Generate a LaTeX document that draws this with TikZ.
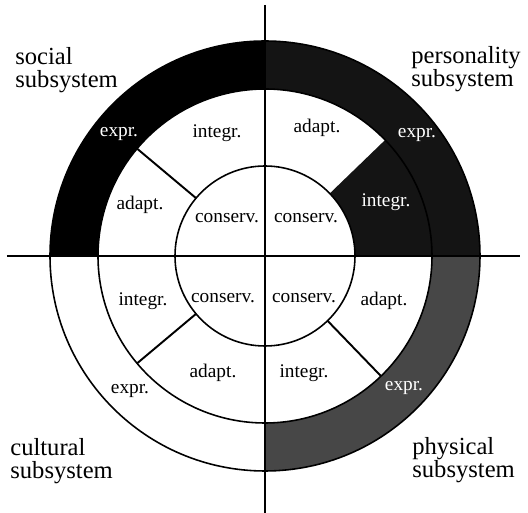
\documentclass[tikz,border=0pt]{standalone}
\usepackage{fontspec}
\setmainfont{Liberation Serif}
\usepackage{tikz}

\tikzset{
  part/.style={font=\fontsize{11}{12}\selectfont, inner sep=1pt},
  subsys/.style={font=\fontsize{14}{13}\selectfont, align=left, anchor=west, inner sep=0pt},
  ring/.style={line width=0.9pt},
  axis/.style={line width=1.6pt}
}

\begin{document}
\begin{tikzpicture}[x=0.02cm, y=0.02cm]
        \useasboundingbox (-265,-257) rectangle (263,256);
        % filled parts of the rings
        \fill[black] (90:215) arc[start angle=90, end angle=180, radius=215]
            -- (180:167) arc[start angle=180, end angle=90, radius=167] -- cycle;
        \fill[black!92] (90:215) arc[start angle=90, end angle=0, radius=215]
            -- (0:90) arc[start angle=0, end angle=44, radius=90]
            -- (44:167) arc[start angle=44, end angle=90, radius=167] -- cycle;
        \fill[black!72] (0:215) arc[start angle=0, end angle=-90, radius=215]
            -- (-90:167) arc[start angle=-90, end angle=0, radius=167] -- cycle;
        % circles
        \draw[ring] (0,0) circle[radius=215];
        \draw[ring] (0,0) circle[radius=167];
        \draw[ring, fill=white] (0,0) circle[radius=90];
        % dividers
        \coordinate (ulin) at (140:90);
        \coordinate (ulout) at (140:167);
        \coordinate (llin) at (220:90);
        \coordinate (llout) at (220:167);
        \coordinate (lrin) at (-46:90);
        \coordinate (lrout) at (-46:167);
        \draw[line width=1.1pt] (ulin) -- (ulout);
        \draw[line width=1.1pt] (llin) -- (llout);
        \draw[line width=1.1pt] (lrin) -- (lrout);
        % axes
        \coordinate (west) at (-258,0);
        \coordinate (east) at (255,0);
        \coordinate (north) at (0,251);
        \coordinate (south) at (0,-257);
        \draw[axis] (west) -- (east);
        \draw[axis] (north) -- (south);
        % social
        \node[part, text=white] (ulexpr) at (-146,122) {expr.};
        \node[part] (ulintegr) at (-48,123) {integr.};
        \node[part] (uladapt) at (-125,51) {adapt.};
        \node[part] (ulconserv) at (-38,38) {conserv.};
        % personality
        \node[part] (uradapt) at (52,128) {adapt.};
        \node[part, text=white] (urexpr) at (152,121) {expr.};
        \node[part, text=white] (urintegr) at (121,54) {integr.};
        \node[part] (urconserv) at (41,38) {conserv.};
        % cultural
        \node[part] (llintegr) at (-122,-45) {integr.};
        \node[part] (llconserv) at (-42,-42) {conserv.};
        \node[part] (lladapt) at (-52,-117) {adapt.};
        \node[part] (llexpr) at (-135,-135) {expr.};
        % physical
        \node[part] (lrconserv) at (39,-42) {conserv.};
        \node[part] (lradapt) at (119,-45) {adapt.};
        \node[part] (lrintegr) at (39,-117) {integr.};
        \node[part, text=white] (lrexpr) at (139,-132) {expr.};
        % subsystem names
        \node[subsys] (social) at (-250,186) {social\\subsystem};
        \node[subsys] (personality) at (146,187) {personality\\subsystem};
        \node[subsys] (cultural) at (-255,-205) {cultural\\subsystem};
        \node[subsys] (physical) at (147,-204) {physical\\subsystem};
    \end{tikzpicture}
\end{document}
